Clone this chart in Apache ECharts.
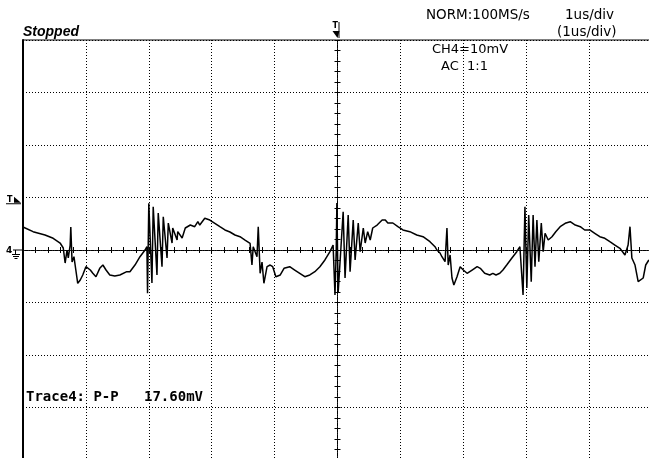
<!DOCTYPE html>
<html><head><meta charset="utf-8">
<script src="https://cdn.jsdelivr.net/npm/echarts@6/dist/echarts.min.js"></script>
<style>html,body{margin:0;padding:0;background:#fff}#c{width:649px;height:458px}</style>
</head><body><div id="c"></div>
<script>
// time relative to trigger (us), 1 us/div
const timeUs = [-5.00,-4.84,-4.65,-4.52,-4.41,-4.36,-4.33,-4.30,-4.28,-4.25,-4.24,-4.22,-4.19,-4.16,-4.13,-4.09,-4.05,-4.00,-3.93,-3.89,-3.84,-3.78,-3.73,-3.68,-3.62,-3.54,-3.46,-3.35,-3.30,-3.22,-3.14,-3.06,-3.03,-3.02,-3.00,-2.95,-2.93,-2.87,-2.85,-2.79,-2.77,-2.71,-2.69,-2.63,-2.62,-2.55,-2.54,-2.47,-2.42,-2.34,-2.27,-2.22,-2.19,-2.11,-2.03,-1.95,-1.87,-1.79,-1.71,-1.63,-1.55,-1.47,-1.39,-1.36,-1.34,-1.31,-1.28,-1.26,-1.23,-1.20,-1.17,-1.12,-1.07,-1.03,-0.98,-0.91,-0.85,-0.76,-0.68,-0.60,-0.52,-0.44,-0.36,-0.28,-0.20,-0.12,-0.07,-0.04,-0.02,-0.01,0.01,0.09,0.12,0.17,0.20,0.25,0.28,0.33,0.36,0.41,0.44,0.48,0.52,0.56,0.63,0.71,0.76,0.80,0.88,0.96,1.04,1.15,1.26,1.36,1.47,1.55,1.58,1.63,1.66,1.71,1.74,1.76,1.79,1.82,1.85,1.90,1.95,2.00,2.06,2.14,2.22,2.27,2.34,2.42,2.47,2.52,2.58,2.63,2.69,2.77,2.85,2.90,2.95,2.98,3.01,3.04,3.08,3.11,3.14,3.17,3.20,3.24,3.27,3.30,3.35,3.41,3.47,3.54,3.62,3.70,3.78,3.86,3.93,4.01,4.09,4.17,4.25,4.33,4.41,4.49,4.57,4.62,4.65,4.68,4.73,4.78,4.81,4.86,4.90,4.95];
// CH4 voltage (mV), 10 mV/div
const voltageMv = [4.38,3.49,2.86,2.23,1.33,0.38,-2.48,0,-1.52,0.95,4.38,-2.29,-1.28,-3.81,-6.34,-5.71,-4.76,-3.18,-3.81,-4.44,-5.09,-3.49,-2.86,-3.81,-4.76,-4.95,-4.76,-4.13,-4.13,-2.86,-1.28,0,0.63,-8.25,8.90,-6.29,8.25,-4.76,7.05,-3.18,6.34,-1.52,5.14,1.33,4.19,1.90,3.49,2.29,4.19,4.76,4.44,5.39,4.76,6.04,5.71,5.09,4.44,3.81,3.43,2.86,2.53,1.90,1.28,-2.86,0.63,0.95,-1.28,4.44,-4.44,-2.29,-6.34,-3.18,-2.86,-3.18,-5.09,-4.76,-3.49,-3.18,-3.81,-4.44,-5.09,-4.76,-4.13,-3.18,-1.90,-0.32,0.95,-8.57,0,8.95,-8.19,7.30,-5.33,6.67,-4.13,5.71,-1.90,5.14,-0.32,4.19,1.33,3.49,1.90,4.19,4.76,5.71,5.71,5.14,5.14,4.44,3.81,3.49,2.86,2.53,1.58,0.63,0,-0.57,-1.28,-2.23,4.19,-2.86,-0.95,-5.33,-6.67,-5.09,-3.18,-3.81,-4.44,-3.81,-3.18,-3.49,-4.44,-4.76,-4.44,-4.76,-4.44,-3.81,-2.86,-1.58,-0.32,0.63,-8.57,8.25,-7.24,6.67,-6.04,6.67,-3.18,5.71,-2.23,5.14,-0.32,3.18,1.90,2.53,3.49,4.44,5.09,5.39,4.76,4.44,3.81,3.81,3.18,2.53,2.23,1.58,0.95,0.32,-0.95,0.95,4.44,-1.52,-2.86,-6.04,-5.71,-5.33,-2.86,-1.90];
const triggerLevelMv = 9;
const statusText = 'Stopped';
const sampleText = 'NORM:100MS/s';
const timebaseText = '1us/div';
const timebaseSubText = '(1us/div)';
const channelText = 'CH4=10mV';
const couplingText = 'AC  1:1';
const measureText = 'Trace4: P-P   17.60mV';

const chart = echarts.init(document.getElementById('c'), null, {renderer:'canvas'});
const dotted = {color:'#000', width:1, type:[1,2]};
const centerLine = {color:'#000', width:1, type:[1,1]};
const tickStyle = {color:'#000', width:1};
function centerAxis(pos, min, max, interval){
  return {type:'value', min:min, max:max, interval:interval, position:pos,
    axisLine:{show:true, onZero:true, onZeroAxisIndex:0, lineStyle:centerLine},
    axisTick:{show:true, length:3, lineStyle:tickStyle},
    minorTick:{show:true, splitNumber:5, length:3, lineStyle:tickStyle},
    axisLabel:{show:false}, splitLine:{show:false}, minorSplitLine:{show:false}};
}
const x0 = centerAxis('bottom', -5, 5, 1); x0.splitLine = {show:true, lineStyle:dotted};
const x1 = centerAxis('top', -5, 5, 1);
const y0 = centerAxis('left', -40, 40, 10); y0.splitLine = {show:true, lineStyle:dotted};
const y1 = centerAxis('right', -40, 40, 10);
const y2 = {type:'value', min:-40, max:40, interval:10, position:'left',
  axisLine:{show:true, onZero:false, lineStyle:{color:'#000', width:2}},
  axisTick:{show:false}, axisLabel:{show:false}, splitLine:{show:false}};

chart.setOption({
  animation:false,
  backgroundColor:'#fff',
  grid:{left:23, top:40, width:629, height:420, outerBoundsMode:'none', containLabel:false,
    show:true, borderColor:'#000', borderWidth:1, backgroundColor:'transparent'},
  xAxis:[x0, x1],
  yAxis:[y0, y1, y2],
  series:[{type:'line', xAxisIndex:0, yAxisIndex:0, showSymbol:false, symbol:'none',
    data: timeUs.map((t,i)=>[t, voltageMv[i]]),
    lineStyle:{color:'#000', width:1.5}, z:5}]
});

const cx = chart.convertToPixel({xAxisIndex:0}, 0);
const gy = chart.convertToPixel({yAxisIndex:0}, 0);
const ty = chart.convertToPixel({yAxisIndex:0}, triggerLevelMv);
const sans = '"DejaVu Sans", sans-serif';
function txt(x, y, s, font){ return {type:'text', x:x, y:y, style:{text:s, font:font, fill:'#000', verticalAlign:'middle', align:'left'}}; }
chart.setOption({graphic:[
  txt(23, 32, statusText, 'italic bold 14px "Liberation Sans", sans-serif'),
  txt(426, 15, sampleText, '13.5px ' + sans),
  txt(565, 15, timebaseText, '13.5px ' + sans),
  txt(557, 32, timebaseSubText, '13.5px ' + sans),
  txt(432, 50, channelText, '13px ' + sans),
  txt(441, 67, couplingText, '13px ' + sans),
  txt(26, 397, measureText, 'bold 14px "DejaVu Sans Mono", monospace'),
  // trigger position marker
  txt(cx-5, 26, 'T', 'bold 8px ' + sans),
  {type:'polygon', shape:{points:[[cx-5,31],[cx+2,31],[cx,38]]}, style:{fill:'#000'}},
  {type:'line', shape:{x1:cx+1.5, y1:22, x2:cx+1.5, y2:38}, style:{stroke:'#000', lineWidth:1}},
  // trigger level marker
  txt(7, ty-3, 'T', 'bold 8px ' + sans),
  {type:'polygon', shape:{points:[[14,ty-6],[21,ty],[14,ty]]}, style:{fill:'#000'}},
  {type:'line', shape:{x1:6, y1:ty+1, x2:21, y2:ty+1}, style:{stroke:'#000', lineWidth:1}},
  // ground marker
  txt(6, gy+1, '4', 'bold 9px ' + sans),
  {type:'line', shape:{x1:13, y1:gy, x2:22, y2:gy}, style:{stroke:'#000', lineWidth:1}},
  {type:'line', shape:{x1:15.5, y1:gy, x2:15.5, y2:gy+4}, style:{stroke:'#000', lineWidth:1}},
  {type:'line', shape:{x1:12, y1:gy+4.5, x2:20, y2:gy+4.5}, style:{stroke:'#000', lineWidth:1}},
  {type:'line', shape:{x1:13, y1:gy+6.5, x2:19, y2:gy+6.5}, style:{stroke:'#000', lineWidth:1}},
  {type:'line', shape:{x1:14.5, y1:gy+8.5, x2:17.5, y2:gy+8.5}, style:{stroke:'#000', lineWidth:1}}
]});
</script></body></html>
